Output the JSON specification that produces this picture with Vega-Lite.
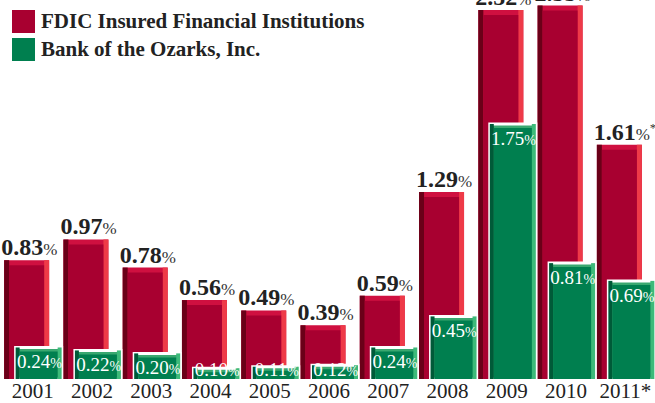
{
  "$schema": "https://vega.github.io/schema/vega-lite/v6.json",
  "autosize": {"type": "none"},
  "width": 652,
  "height": 379,
  "padding": {"left": 3, "top": 0, "right": 0, "bottom": 24},
  "background": "white",
  "config": {"view": {"stroke": null}},
  "data": {
    "values": [
      {"year": "2001", "fdic": 0.83, "ozarks": 0.24, "note": ""},
      {"year": "2002", "fdic": 0.97, "ozarks": 0.22, "note": ""},
      {"year": "2003", "fdic": 0.78, "ozarks": 0.20, "note": ""},
      {"year": "2004", "fdic": 0.56, "ozarks": 0.10, "note": ""},
      {"year": "2005", "fdic": 0.49, "ozarks": 0.11, "note": ""},
      {"year": "2006", "fdic": 0.39, "ozarks": 0.12, "note": ""},
      {"year": "2007", "fdic": 0.59, "ozarks": 0.24, "note": ""},
      {"year": "2008", "fdic": 1.29, "ozarks": 0.45, "note": ""},
      {"year": "2009", "fdic": 2.52, "ozarks": 1.75, "note": ""},
      {"year": "2010", "fdic": 2.55, "ozarks": 0.81, "note": ""},
      {"year": "2011*", "fdic": 1.61, "ozarks": 0.69, "note": "*"}
    ]
  },
  "encoding": {
    "x": {
      "field": "year", "type": "nominal", "sort": null,
      "scale": {"paddingInner": 0, "paddingOuter": 0},
      "axis": {"title": null, "labelAngle": 0, "ticks": false, "domain": false, "grid": false,
               "labelFont": "Liberation Serif", "labelFontSize": 21, "labelColor": "#222222", "labelPadding": 1}
    }
  },
  "layer": [
    {
      "mark": {"type": "bar", "size": 45, "xOffset": -6, "color": "#cf1040", "clip": true},
      "encoding": {
        "y": {"field": "fdic", "type": "quantitative", "scale": {"domain": [0.027, 2.588], "zero": false, "nice": false}, "axis": null},
        "y2": {"datum": 0.027}
      }
    },
    {
      "mark": {"type": "bar", "size": 5, "xOffset": -26, "color": "#6a0018", "clip": true},
      "encoding": {"y": {"field": "fdic", "type": "quantitative"}, "y2": {"datum": 0.027}}
    },
    {
      "mark": {"type": "bar", "size": 5, "xOffset": 14, "color": "#ee3a48", "clip": true},
      "encoding": {"y": {"field": "fdic", "type": "quantitative"}, "y2": {"datum": 0.027}}
    },
    {
      "mark": {"type": "bar", "size": 35, "xOffset": -6, "yOffset": 5, "clip": true},
      "encoding": {
        "y": {"field": "fdic", "type": "quantitative"}, "y2": {"datum": 0.027},
        "color": {"datum": "FDIC Insured Financial Institutions", "type": "nominal",
          "scale": {"domain": ["FDIC Insured Financial Institutions", "Bank of the Ozarks, Inc."], "range": ["#a80030", "#007f4f"]},
          "legend": {"title": null, "orient": "none", "legendX": 9, "legendY": 10, "padding": 0,
            "symbolType": "square", "symbolSize": 529, "symbolStrokeWidth": 0, "symbolOpacity": 1,
            "labelFont": "Liberation Serif", "labelFontSize": 21, "labelFontWeight": "bold", "labelColor": "#222222",
            "rowPadding": 5, "labelOffset": 6, "labelLimit": 500}}
      }
    },
    {
      "mark": {"type": "bar", "size": 46, "xOffset": 6, "color": "#3aa870", "stroke": "white", "strokeWidth": 3, "clip": true},
      "encoding": {"y": {"field": "ozarks", "type": "quantitative"}, "y2": {"datum": 0.027}}
    },
    {
      "mark": {"type": "bar", "size": 4, "xOffset": -15, "color": "#005a38", "clip": true},
      "encoding": {"y": {"field": "ozarks", "type": "quantitative"}, "y2": {"datum": 0.027}}
    },
    {
      "mark": {"type": "bar", "size": 4, "xOffset": 27, "color": "#3dba7a", "clip": true},
      "encoding": {"y": {"field": "ozarks", "type": "quantitative"}, "y2": {"datum": 0.027}}
    },
    {
      "mark": {"type": "bar", "size": 38, "xOffset": 6, "yOffset": 4, "clip": true},
      "encoding": {
        "y": {"field": "ozarks", "type": "quantitative"}, "y2": {"datum": 0.027},
        "color": {"datum": "Bank of the Ozarks, Inc.", "type": "nominal"}
      }
    },
    {
      "mark": {"type": "text", "align": "right", "baseline": "alphabetic", "xOffset": 10.5, "dy": -5,
               "font": "Liberation Serif", "fontSize": 24, "fontWeight": "bold", "color": "#222222"},
      "encoding": {"y": {"field": "fdic", "type": "quantitative"}, "text": {"field": "fdic", "type": "quantitative", "format": ".2f"}}
    },
    {
      "mark": {"type": "text", "align": "left", "baseline": "alphabetic", "xOffset": 10.5, "dy": -5,
               "font": "Liberation Serif", "fontSize": 17, "color": "#333333"},
      "encoding": {"y": {"field": "fdic", "type": "quantitative"}, "text": {"datum": "%"}}
    },
    {
      "mark": {"type": "text", "align": "left", "baseline": "alphabetic", "xOffset": 24.5, "dy": -13,
               "font": "Liberation Serif", "fontSize": 13, "color": "#333333"},
      "encoding": {"y": {"field": "fdic", "type": "quantitative"}, "text": {"field": "note"}}
    },
    {
      "mark": {"type": "text", "align": "right", "baseline": "alphabetic", "xOffset": 17.5,
               "dy": {"expr": "min(21, 376 - scale('y', datum.ozarks))"},
               "font": "Liberation Serif", "fontSize": 19, "color": "white"},
      "encoding": {"y": {"field": "ozarks", "type": "quantitative"}, "text": {"field": "ozarks", "type": "quantitative", "format": ".2f"}}
    },
    {
      "mark": {"type": "text", "align": "left", "baseline": "alphabetic", "xOffset": 17.5,
               "dy": {"expr": "min(21, 376 - scale('y', datum.ozarks))"},
               "font": "Liberation Serif", "fontSize": 14, "color": "white"},
      "encoding": {"y": {"field": "ozarks", "type": "quantitative"}, "text": {"datum": "%"}}
    }
  ]
}
